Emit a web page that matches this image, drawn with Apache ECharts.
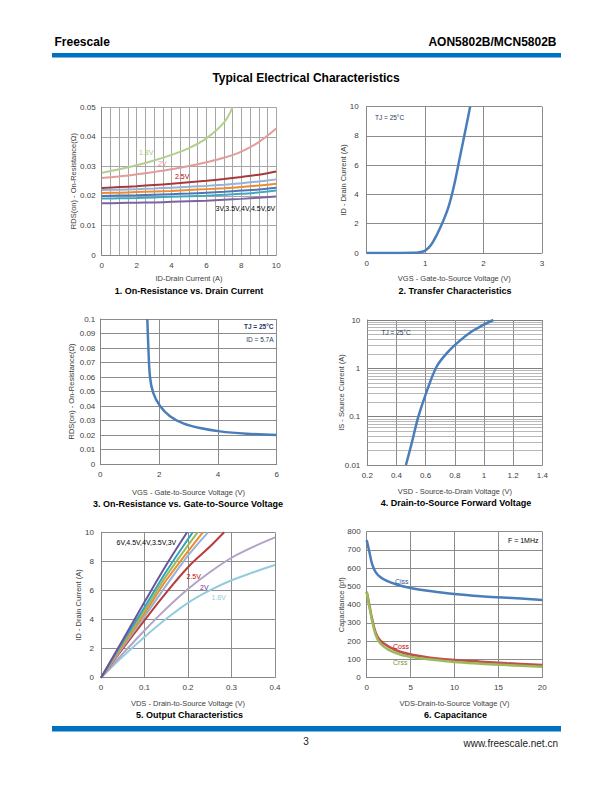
<!DOCTYPE html>
<html><head><meta charset="utf-8">
<script src="https://cdn.jsdelivr.net/npm/echarts@6/dist/echarts.min.js"></script>
<style>html,body{margin:0;padding:0;background:#fff}#c{width:612px;height:792px}</style>
</head><body><div id="c"></div>
<script>
// ---------- DATA ----------
// Chart 1: RDS(on) vs ID
const c1_id = [0,1,2,3,4,5,6,7,8,9,10];
const c1_id18 = [0,1,2,3,4,5,6,7,7.5];
const c1_r18 = [0.0278,0.0290,0.0304,0.0320,0.0339,0.0362,0.0395,0.0448,0.0500];
const c1_r2  = [0.0261,0.0266,0.0273,0.0281,0.0290,0.0301,0.0314,0.0329,0.0350,0.0382,0.0428];
const c1_r25 = [0.0227,0.0230,0.0233,0.0237,0.0241,0.0246,0.0251,0.0257,0.0264,0.0272,0.0283];
const c1_r3  = [0.0220,0.0221,0.0223,0.0225,0.0228,0.0231,0.0234,0.0238,0.0243,0.0249,0.0256];
const c1_r35 = [0.0210,0.0211,0.0213,0.0215,0.0217,0.0220,0.0223,0.0226,0.0230,0.0235,0.0241];
const c1_r4  = [0.0200,0.0201,0.0202,0.0204,0.0206,0.0208,0.0211,0.0214,0.0218,0.0222,0.0228];
const c1_r45 = [0.0191,0.0192,0.0193,0.0195,0.0197,0.0199,0.0201,0.0204,0.0207,0.0212,0.0218];
const c1_r6  = [0.0175,0.0176,0.0177,0.0178,0.0180,0.0182,0.0184,0.0187,0.0190,0.0194,0.0198];
// Chart 2: Transfer
const c2_vgs = [0,0.5,0.8,0.9,1.0,1.1,1.2,1.3,1.4,1.5,1.6,1.7,1.77];
const c2_id  = [0,0,0.01,0.05,0.16,0.55,1.25,2.1,3.15,4.7,6.65,8.6,10];
// Chart 3: RDS vs VGS
const c3_vgs = [1.6,1.63,1.69,1.8,2.03,2.37,2.82,3.39,4.07,4.98,6];
const c3_rds = [0.1,0.083,0.060,0.049,0.040,0.033,0.028,0.0248,0.0225,0.0209,0.0200];
// Chart 4: Body diode
const c4_vsd = [0.465,0.504,0.55,0.607,0.675,0.744,0.813,0.904,0.995,1.064];
const c4_is  = [0.01,0.028,0.1,0.33,1.08,2.04,3.29,5.47,7.9,10];
const c4_minor = [0.02,0.03,0.04,0.05,0.06,0.07,0.08,0.09,0.2,0.3,0.4,0.5,0.6,0.7,0.8,0.9,2,3,4,5,6,7,8,9];
// Chart 5: Output characteristics
const c5_v6  = [0,0.05,0.1,0.15,0.198];   const c5_i6  = [0,2.6,5.2,7.75,10];
const c5_v45 = [0,0.05,0.1,0.15,0.211];   const c5_i45 = [0,2.45,4.85,7.3,10];
const c5_v4  = [0,0.05,0.1,0.15,0.222];   const c5_i4  = [0,2.35,4.6,7.0,10];
const c5_v35 = [0,0.05,0.1,0.15,0.234];   const c5_i35 = [0,2.2,4.4,6.7,10];
const c5_v3  = [0,0.05,0.1,0.15,0.2,0.246]; const c5_i3 = [0,2.1,4.2,6.35,8.4,10];
const c5_v25 = [0,0.05,0.1,0.15,0.2,0.25,0.283]; const c5_i25 = [0,2.0,3.95,5.85,7.6,9.0,10];
const c5_vx  = [0,0.05,0.1,0.15,0.2,0.25,0.3,0.35,0.4];
const c5_i2  = [0,1.65,3.25,4.75,6.1,7.25,8.25,9.0,9.65];
const c5_i18 = [0,1.45,2.8,4.05,5.15,6.0,6.7,7.25,7.75];
// Chart 6: Capacitance
const c6_vc = [0,0.3,0.6,1,1.5,2.3,3.4,5,7.2,10,13,16,20];
const c6_ciss = [755,690,625,580,553,530,511,492,475,458,446,438,426];
const c6_vo = [0,0.3,0.6,1,1.5,2.5,3.8,5.3,7.2,10,13,16,20];
const c6_coss = [471,398,325,250,206,170,142,124,110,97,88,79,69];
const c6_crss = [468,392,315,238,190,152,127,112,100,86,77,69,60];

// ---------- CHART ----------
const F = 'Liberation Sans, Arial, sans-serif';
const zip = (xs, ys) => xs.map((x, i) => [x, ys[i]]);
const chart = echarts.init(document.getElementById('c'), null, {renderer: 'svg', width: 612, height: 792});

const grids = [
  {left:101.7, top:107.3, width:174.5, height:147.7},
  {left:366.7, top:106.7, width:175.3, height:146.3},
  {left:100.3, top:319, width:176.4, height:145},
  {left:367.3, top:320, width:175, height:145},
  {left:101, top:532.3, width:174, height:145.4},
  {left:366.7, top:531.7, width:175.6, height:146}
].map(g => Object.assign({containLabel:false, outerBoundsMode:'none'}, g));

function ax(o) {
  const gc = o.gc || '#8c8c8c';
  return Object.assign({
    type:'value', gridIndex:o.g, nameLocation:'middle', nameMoveOverlap:false,
    nameTextStyle:{fontSize:7.5, fontFamily:F, color:'#404040'},
    axisLine:{show:true, onZero:false, lineStyle:{color:'#868686', width:1}},
    axisTick:{show:false},
    axisLabel:{fontSize:8, fontFamily:F, color:'#404040', margin:o.margin||6, hideOverlap:false, showMinLabel:true, showMaxLabel:true},
    splitLine:{show:true, showMinLine:true, showMaxLine:true, lineStyle:{color:gc, width:1}}
  }, o.extra);
}
const trim = v => String(parseFloat((+v).toFixed(3)));

const xAxis = [
  ax({g:0, gc:'#a6a6a6', extra:{min:0,max:10,interval:2,name:'ID-Drain Current (A)',nameGap:19,
     minorTick:{show:false, splitNumber:4}, minorSplitLine:{show:true, lineStyle:{color:'#a6a6a6', width:1}}}}),
  ax({g:1, extra:{min:0,max:3,interval:1,name:'VGS - Gate-to-Source Voltage (V)',nameGap:21}}),
  ax({g:2, extra:{min:0,max:6,interval:2,name:'VGS - Gate-to-Source Voltage (V)',nameGap:24}}),
  ax({g:3, extra:{min:0.2,max:1.4,interval:0.2,name:'VSD - Source-to-Drain Voltage (V)',nameGap:22, axisLabel:{fontSize:8,fontFamily:F,color:'#404040',margin:6,formatter:trim}}}),
  ax({g:4, extra:{min:0,max:0.4,interval:0.1,name:'VDS - Drain-to-Source Voltage (V)',nameGap:22, axisLabel:{fontSize:8,fontFamily:F,color:'#404040',margin:6,formatter:trim}}}),
  ax({g:5, extra:{min:0,max:20,interval:5,name:'VDS-Drain-to-Source Voltage (V)',nameGap:22}})
];
const yAxis = [
  ax({g:0, gc:'#a6a6a6', extra:{min:0,max:0.05,interval:0.01,name:'RDS(on) - On-Resistance(Ω)',nameGap:24, axisLabel:{fontSize:8,fontFamily:F,color:'#404040',margin:6,formatter:trim}}}),
  ax({g:1, extra:{min:0,max:10,interval:2,name:'ID - Drain Current (A)',nameGap:19, axisLabel:{fontSize:8,fontFamily:F,color:'#404040',margin:8}}}),
  ax({g:2, extra:{min:0,max:0.1,interval:0.01,name:'RDS(on) - On-Resistance(Ω)',nameGap:25, axisLabel:{fontSize:8,fontFamily:F,color:'#404040',margin:5,formatter:trim}}}),
  ax({g:3, extra:{type:'log',logBase:10,min:0.01,max:10,name:'IS - Source Current (A)',nameGap:22,
     splitLine:{show:true, lineStyle:{color:'#7f7f7f', width:1}},
     axisLabel:{fontSize:8,fontFamily:F,color:'#404040',margin:7,formatter:v => String(+(+v).toPrecision(2))}}}),
  ax({g:4, extra:{min:0,max:10,interval:2,name:'ID - Drain Current (A)',nameGap:19, axisLabel:{fontSize:8,fontFamily:F,color:'#404040',margin:7}}}),
  ax({g:5, extra:{min:0,max:800,interval:100,name:'Capacitance (pf)',nameGap:21}})
];

function line(i, data, color, w, smooth) {
  return {type:'line', xAxisIndex:i, yAxisIndex:i, data, showSymbol:false, symbol:'none',
    smooth: smooth === undefined ? 0.35 : smooth, lineStyle:{color, width:w}, itemStyle:{color},
    animation:false, silent:true, clip:true, z:3};
}

const series = [
  // chart 1
  line(0, zip(c1_id18, c1_r18), '#b3cf8f', 2),
  line(0, zip(c1_id, c1_r2), '#e29c9c', 2),
  line(0, zip(c1_id, c1_r25), '#a8393b', 2),
  line(0, zip(c1_id, c1_r3), '#95b3d7', 2),
  line(0, zip(c1_id, c1_r35), '#f08a32', 2),
  line(0, zip(c1_id, c1_r4), '#4a78b5', 2),
  line(0, zip(c1_id, c1_r45), '#43a7c0', 2),
  line(0, zip(c1_id, c1_r6), '#7e63a1', 2),
  // chart 2
  line(1, zip(c2_vgs, c2_id), '#4a7ebb', 2.5),
  // chart 3
  line(2, zip(c3_vgs, c3_rds), '#4a7ebb', 2.5),
  // chart 4 minor grid (drawn through the log scale)
  {type:'line', xAxisIndex:3, yAxisIndex:3, data:[], silent:true, animation:false, z:1,
   markLine:{silent:true, z:1, symbol:['none','none'], animation:false, label:{show:false},
     lineStyle:{color:'#a6a6a6', width:0.8, type:'solid'}, emphasis:{disabled:true},
     data: c4_minor.map(v => ({yAxis:v}))}},
  line(3, zip(c4_vsd, c4_is), '#4a7ebb', 2.5),
  // chart 5
  line(4, zip(c5_vx, c5_i18), '#93cddd', 2),
  line(4, zip(c5_vx, c5_i2), '#b3a2c7', 2),
  line(4, zip(c5_v25, c5_i25), '#b83c3c', 2),
  line(4, zip(c5_v3, c5_i3), '#95b3d7', 2),
  line(4, zip(c5_v35, c5_i35), '#f08a32', 2),
  line(4, zip(c5_v4, c5_i4), '#9bbb59', 2),
  line(4, zip(c5_v45, c5_i45), '#31a3c0', 2),
  line(4, zip(c5_v6, c5_i6), '#6a559a', 2),
  // chart 6
  line(5, zip(c6_vc, c6_ciss), '#4a7ebb', 2.5),
  line(5, zip(c6_vo, c6_coss), '#c0504d', 2.5),
  line(5, zip(c6_vo, c6_crss), '#9bbb59', 2.5)
];

function txt(text, x, y, o) {
  o = o || {};
  return {type:'text', x, y, z:10, silent:true, style:{text, fill:o.c||'#000', fontSize:o.s||7,
    fontFamily:F, fontWeight:o.b?'bold':'normal', align:o.a||'left', verticalAlign:'middle'}};
}
const graphic = [
  {type:'rect', shape:{x:52, y:53, width:509, height:4.5}, style:{fill:'#0070c0'}, silent:true},
  {type:'rect', shape:{x:52, y:726, width:509, height:5.5}, style:{fill:'#0070c0'}, silent:true},
  txt('Freescale', 54.5, 42, {s:12, b:true}),
  txt('AON5802B/MCN5802B', 556.5, 42, {s:12, b:true, a:'right'}),
  txt('Typical Electrical Characteristics', 306, 78, {s:12, b:true, a:'center'}),
  txt('3', 306, 741.5, {s:10, a:'center', c:'#222'}),
  txt('www.freescale.net.cn', 558, 743.5, {s:10, a:'right', c:'#222'}),
  txt('1. On-Resistance vs. Drain Current', 189, 290.5, {s:9, b:true, a:'center'}),
  txt('2. Transfer Characteristics', 455, 290.5, {s:9, b:true, a:'center'}),
  txt('3. On-Resistance vs. Gate-to-Source Voltage', 188, 503.5, {s:9, b:true, a:'center'}),
  txt('4. Drain-to-Source Forward Voltage', 456, 503, {s:9, b:true, a:'center'}),
  txt('5. Output Characteristics', 189.5, 715, {s:9, b:true, a:'center'}),
  txt('6. Capacitance', 455.5, 715, {s:9, b:true, a:'center'}),
  // chart 1 labels
  txt('1.8V', 139, 152.5, {c:'#a9c97f'}),
  txt('2V', 158, 163.5, {c:'#e39a9a'}),
  txt('2.5V', 175, 176, {c:'#c00000'}),
  txt('3V,3.5V,4V,4.5V,6V', 215.5, 208.5, {c:'#000'}),
  // chart 2
  txt('TJ = 25°C', 375, 117, {c:'#1f3864', s:6.5}),
  // chart 3
  txt('TJ = 25°C', 273.5, 326, {c:'#1f3864', s:6.5, a:'right', b:true}),
  txt('ID = 5.7A', 273.5, 339.5, {c:'#1f3864', s:6.5, a:'right'}),
  // chart 4
  txt('TJ = 25°C', 381.5, 332, {c:'#1f3864', s:6.5}),
  // chart 5
  txt('6V,4.5V,4V,3.5V,3V', 116.5, 542.5, {c:'#000'}),
  txt('2.5V', 186.5, 576, {c:'#c00000'}),
  txt('2V', 200, 587, {c:'#7030a0'}),
  txt('1.8V', 211.5, 597, {c:'#93cddd'}),
  // chart 6
  txt('F = 1MHz', 538.5, 540.5, {c:'#000', a:'right'}),
  txt('Ciss', 395, 581, {c:'#2f5597'}),
  txt('Coss', 393, 646, {c:'#c00000'}),
  txt('Crss', 393, 662, {c:'#77933c'})
];

chart.setOption({animation:false, backgroundColor:'#fff', grid:grids, xAxis, yAxis, series, graphic});
</script></body></html>
